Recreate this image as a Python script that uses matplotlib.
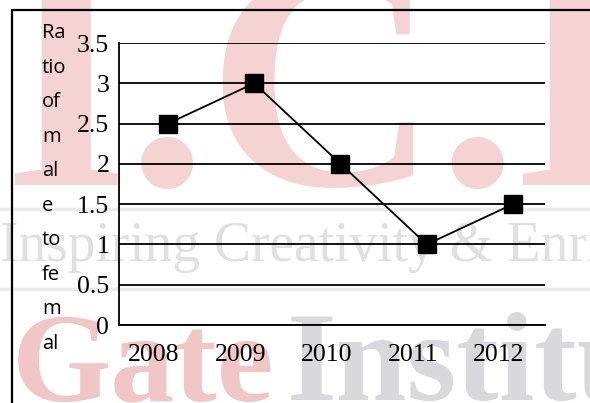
import matplotlib
matplotlib.use('Agg')
import matplotlib.pyplot as plt
import matplotlib.transforms as mtransforms
from matplotlib.patches import Rectangle
from matplotlib.lines import Line2D

years = ['2008', '2009', '2010', '2011', '2012']
ratio = [2.5, 3.0, 2.0, 1.0, 1.5]
y_ticks = [0, 0.5, 1, 1.5, 2, 2.5, 3, 3.5]
y_tick_labels = ['0', '0.5', '1', '1.5', '2', '2.5', '3', '3.5']
y_label_pieces = ['Ra', 'tio', 'of', 'm', 'al', 'e', 'to', 'fe', 'm', 'al']

W, H = 590, 403
fig = plt.figure(figsize=(W / 100, H / 100), dpi=100)
fig.patch.set_facecolor('white')

# background watermark (kept behind everything)
pink = '#f6d3d3'
fig.text(3 / W, 1 - 185 / H, 'I.C.E', fontsize=230, family='Liberation Serif',
         weight='bold', color=pink, ha='left', va='baseline', zorder=-5)
fig.text(0 / W, 1 - 261 / H, 'Inspiring Creativity & Enrichment', fontsize=40,
         family='Liberation Serif', color='#e0e0e0', ha='left', va='baseline', zorder=-5)
fig.add_artist(Line2D([0, 1], [1 - 209 / H] * 2, color='#ececec', lw=2.5, zorder=-5))
fig.add_artist(Line2D([0, 1], [1 - 289 / H] * 2, color='#ececec', lw=2.5, zorder=-5))
fig.text(12 / W, 1 - 400 / H, 'Gate', fontsize=92, family='Liberation Serif',
         weight='bold', color='#f0c6c6', ha='left', va='baseline', zorder=-5)
fig.text(287 / W, 1 - 400 / H, 'Institute', fontsize=92, family='Liberation Serif',
         weight='bold', color='#d9d9dd', ha='left', va='baseline', zorder=-5)

# outer frame (runs off the right and bottom edges)
fig.add_artist(Rectangle((12 / W, -0.2), 1.2, 1.2 - 10 / H, transform=fig.transFigure,
                         fill=False, edgecolor='black', lw=1.6, zorder=1))

ax = fig.add_axes([119 / W, 78 / H, 426 / W, 282 / H])
ax.set_zorder(2)
ax.set_facecolor('none')
x = list(range(len(years)))
ax.plot(x, ratio, color='black', lw=1.3, marker='s', markersize=12.5,
        markerfacecolor='black', markeredgecolor='black', zorder=3)

ax.set_ylim(0, 3.5)
ax.set_xlim(-0.568, 4.371)
ax.set_yticks(y_ticks)
ax.set_yticklabels(y_tick_labels)
ax.set_xticks(x)
ax.set_xticklabels(years)
ax.yaxis.grid(True, color='black', lw=1.3)
ax.set_axisbelow(True)

for s in ['top', 'right']:
    ax.spines[s].set_visible(False)
ax.spines['left'].set_linewidth(1.3)
ax.spines['bottom'].set_linewidth(1.3)
ax.tick_params(length=0)
ax.tick_params(axis='y', pad=7)
ax.tick_params(axis='x', pad=14)
for lab in ax.get_xticklabels() + ax.get_yticklabels():
    lab.set_fontfamily('Liberation Serif')
    lab.set_fontsize(18.5)
shift = mtransforms.ScaledTranslation(-14 / 100, 0, fig.dpi_scale_trans)
for lab in ax.get_xticklabels():
    lab.set_transform(lab.get_transform() + shift)

fig.text(42 / W, 1 - 23 / H, '\n'.join(y_label_pieces), family='Open Sans',
         fontsize=14.5, ha='left', va='top', linespacing=1.97, zorder=3)

fig.savefig('out.png', dpi=100)
